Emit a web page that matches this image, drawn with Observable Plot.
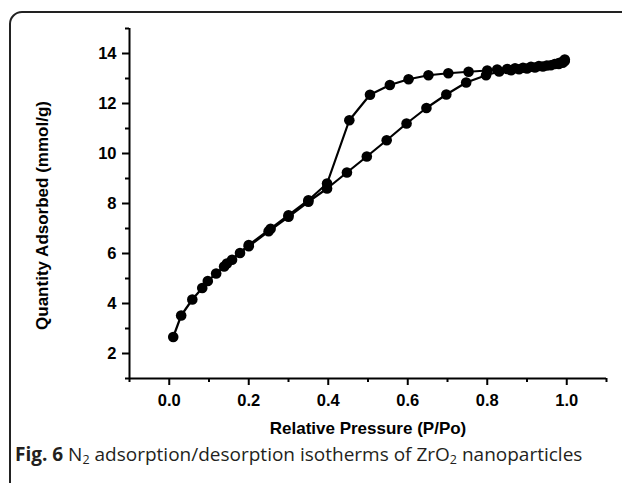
<!DOCTYPE html>
<html>
<head>
<meta charset="utf-8">
<script src="https://cdn.jsdelivr.net/npm/d3@7"></script>
<script src="https://cdn.jsdelivr.net/npm/@observablehq/plot@0.6"></script>
<style>
  html, body { margin: 0; padding: 0; background: #fff; overflow: hidden; width: 622px; height: 483px; }
  #wrap { position: relative; width: 622px; height: 483px; }
  #border { position: absolute; left: 9px; top: 11px; width: 660px; height: 486px; border: 2px solid #222; border-radius: 13px; box-sizing: border-box; }
  #chart { position: absolute; left: 0; top: 0; }
  #caption { position: absolute; left: 15px; top: 441px; font-family: "Open Sans", sans-serif; font-size: 19px; color: #231f20; white-space: nowrap; }
  #caption b { font-weight: 700; }
  #caption sub { font-size: 12.5px; vertical-align: -3px; line-height: 0; }
</style>
</head>
<body>
<div id="wrap">
  <div id="border"></div>
  <div id="chart"></div>
  <div id="caption"><b>Fig. 6</b> N<sub>2</sub> adsorption/desorption isotherms of ZrO<sub>2</sub> nanoparticles</div>
</div>
<script>
// Adsorption branch
const adsX = [0.01,0.03,0.058,0.083,0.097,0.118,0.138,0.158,0.178,0.2,0.25,0.3,0.35,0.397,0.447,0.497,0.547,0.597,0.647,0.697,0.747,0.797,0.83,0.86,0.88,0.9,0.92,0.94,0.96,0.98,0.99,0.995];
const adsY = [2.66,3.52,4.16,4.62,4.9,5.2,5.48,5.75,6.02,6.29,6.89,7.47,8.07,8.6,9.24,9.88,10.53,11.2,11.82,12.36,12.84,13.13,13.28,13.33,13.37,13.4,13.44,13.48,13.53,13.58,13.63,13.7];
// Desorption branch
const desX = [0.995,0.99,0.98,0.97,0.95,0.93,0.91,0.89,0.87,0.85,0.825,0.8,0.753,0.702,0.652,0.602,0.555,0.505,0.453,0.397,0.35,0.3,0.255,0.2,0.145];
const desY = [13.76,13.68,13.62,13.58,13.52,13.5,13.47,13.43,13.41,13.38,13.36,13.32,13.27,13.21,13.13,12.97,12.74,12.35,11.33,8.8,8.13,7.53,6.99,6.34,5.6];

const xMajor = [0,0.2,0.4,0.6,0.8,1.0];
const xMinor = [-0.1,0.1,0.3,0.5,0.7,0.9,1.1];
const yMajor = [2,4,6,8,10,12,14];
const yMinor = [1,3,5,7,9,11,13,15];
const xLabel = "Relative Pressure (P/Po)";
const yLabel = "Quantity Adsorbed (mmol/g)";

const ads = adsX.map((x, i) => ({x, y: adsY[i]}));
const des = desX.map((x, i) => ({x, y: desY[i]}));

const font = "'Liberation Sans', Arial, sans-serif";
const fmtX = d3.format(".1f");

const chart = Plot.plot({
  width: 622,
  height: 483,
  marginLeft: 129,
  marginRight: 16,
  marginTop: 28,
  marginBottom: 105,
  x: {domain: [-0.1, 1.1]},
  y: {domain: [1, 15]},
  style: {background: "transparent", fontFamily: font, fontSize: "17px", fontWeight: "bold", color: "#000", overflow: "visible"},
  marks: [
    Plot.axisX({ticks: xMinor, tickSize: 4, strokeWidth: 2, tickFormat: () => "", label: null}),
    Plot.axisX({ticks: xMajor, tickSize: 7, strokeWidth: 2, tickFormat: () => "", label: null}),
    Plot.axisY({ticks: yMinor, tickSize: 4, strokeWidth: 2, tickFormat: () => "", label: null}),
    Plot.axisY({ticks: yMajor, tickSize: 7, strokeWidth: 2, tickFormat: () => "", label: null}),
    Plot.text(xMajor, {x: d => d, frameAnchor: "bottom", dy: 22, text: d => fmtX(d), fontSize: 16.5, fontWeight: "bold", fill: "#000", lineAnchor: "middle", textAnchor: "middle"}),
    Plot.text(yMajor, {y: d => d, frameAnchor: "left", dx: -13, text: d => String(d), fontSize: 16.5, fontWeight: "bold", fill: "#000", lineAnchor: "middle", textAnchor: "end"}),
    Plot.ruleX([-0.1], {y1: 1, y2: 15, stroke: "#000", strokeWidth: 2}),
    Plot.ruleY([1], {x1: -0.1, x2: 1.1, stroke: "#000", strokeWidth: 2}),
    Plot.line(ads, {x: "x", y: "y", stroke: "#000", strokeWidth: 2.2}),
    Plot.line(des, {x: "x", y: "y", stroke: "#000", strokeWidth: 2.2}),
    Plot.dot(ads, {x: "x", y: "y", r: 5.3, fill: "#000"}),
    Plot.dot(des, {x: "x", y: "y", r: 5.3, fill: "#000"}),
    Plot.text([xLabel], {frameAnchor: "bottom", dy: 50, text: d => d, fontSize: 17, fontWeight: "bold", fill: "#000", lineAnchor: "middle", textAnchor: "middle"}),
    Plot.text([yLabel], {frameAnchor: "left", dx: -87, dy: 12, rotate: -90, text: d => d, fontSize: 17, fontWeight: "bold", fill: "#000", lineAnchor: "middle", textAnchor: "middle"})
  ]
});
document.getElementById("chart").appendChild(chart);
</script>
</body>
</html>
